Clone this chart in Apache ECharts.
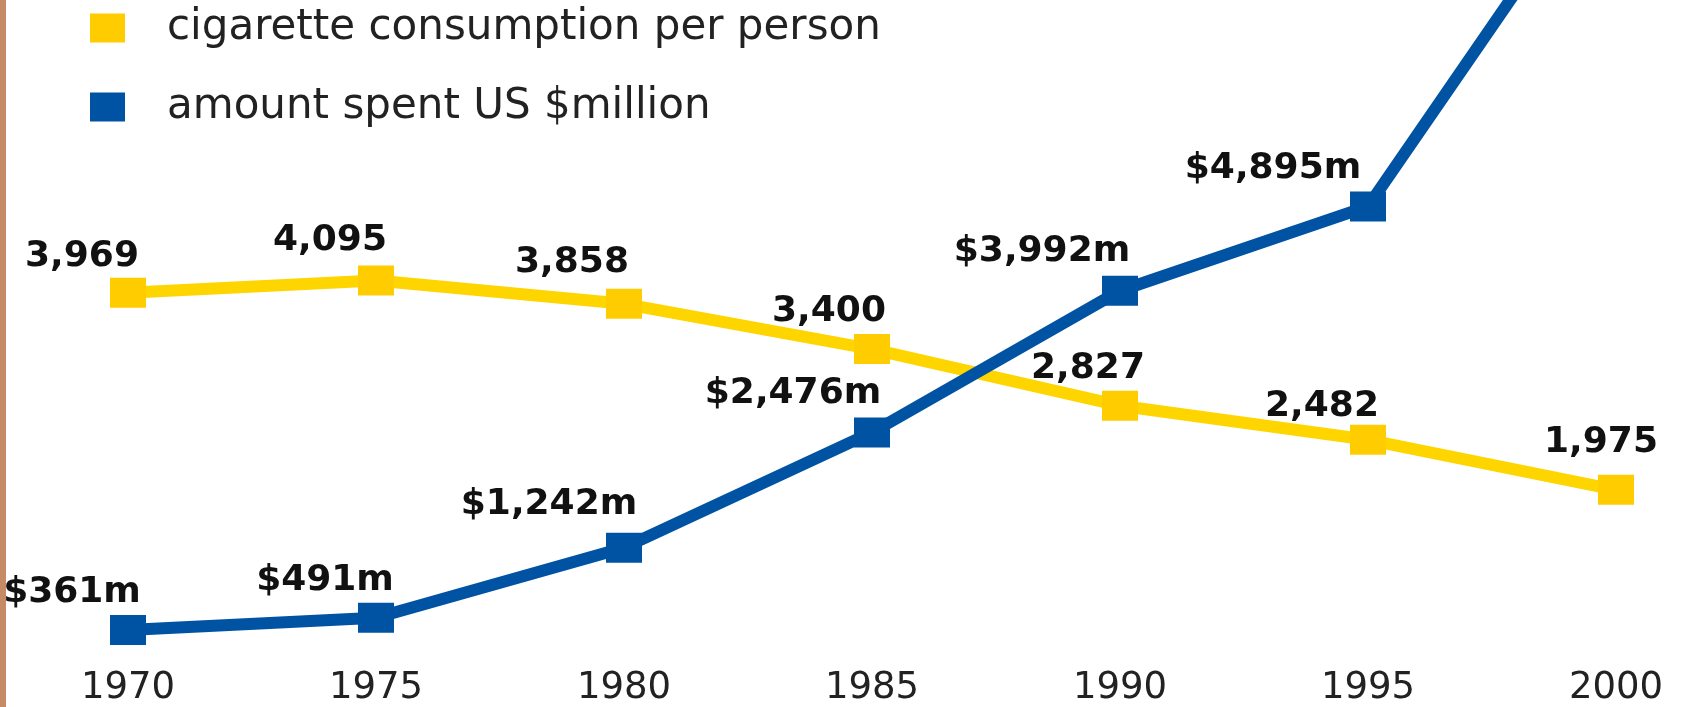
<!DOCTYPE html>
<html>
<head>
<meta charset="utf-8">
<script src="https://cdn.jsdelivr.net/npm/echarts@6/dist/echarts.min.js"></script>
<style>
  html, body { margin: 0; padding: 0; background: #fff; }
  #chart { width: 1690px; height: 707px; }
</style>
</head>
<body>
<div id="chart"></div>
<script>
// data
var years = ['1970', '1975', '1980', '1985', '1990', '1995', '2000']
var cigarettes = [3969, 4095, 3858, 3400, 2827, 2482, 1975]
var spent = [361, 491, 1242, 2476, 3992, 4895, 8750]   // 2000 runs off the top, estimated
var cigLabels = ['3,969', '4,095', '3,858', '3,400', '2,827', '2,482', '1,975']
var spentLabels = ['$361m', '$491m', '$1,242m', '$2,476m', '$3,992m', '$4,895m', '']

// label nudges (px from the marker centre)
var cigShift = [[-46, -36], [-46, -40], [-52, -41], [-43, -37], [-32, -37], [-46, -33], [-15, -47]]
var spentShift = [[-56, -37], [-51, -37], [-75, -43], [-79, -39], [-78, -39], [-95, -38], [0, 0]]

var labelFont = {
  fontFamily: 'DejaVu Sans',
  fontWeight: 'bold',
  fontSize: 36,
  color: '#111'
}

function buildData(values, texts, shifts) {
  return values.map(function (v, i) {
    return {
      value: v,
      label: {
        show: texts[i] !== '',
        formatter: texts[i],
        offset: shifts[i]
      }
    }
  })
}

var chart = echarts.init(document.getElementById('chart'))

var option = {
  animation: false,
  backgroundColor: '#fff',
  grid: { left: 128, right: 74, top: 0, bottom: 22 },
  legend: {
    orient: 'vertical',
    left: 85,
    top: 2,
    icon: 'rect',
    itemWidth: 35,
    itemHeight: 29,
    itemGap: 37,
    selectedMode: false,
    textStyle: {
      fontFamily: 'DejaVu Sans',
      fontSize: 42,
      lineHeight: 42,
      color: '#222',
      padding: [0, 0, 0, 37]
    },
    data: ['cigarette consumption per person', 'amount spent US $million']
  },
  xAxis: {
    type: 'category',
    data: years,
    boundaryGap: false,
    axisLine: { show: false },
    axisTick: { show: false },
    splitLine: { show: false },
    axisLabel: {
      fontFamily: 'DejaVu Sans',
      fontSize: 37,
      color: '#222',
      margin: -15
    }
  },
  yAxis: [
    { type: 'value', min: 0, max: 6933, show: false, splitLine: { show: false } },
    { type: 'value', min: -228, max: 7105, show: false, splitLine: { show: false } }
  ],
  graphic: [
    { type: 'rect', left: 0, top: 0, shape: { width: 6, height: 707 }, style: { fill: '#C68B66' } }
  ],
  series: [
    {
      name: 'cigarette consumption per person',
      type: 'line',
      yAxisIndex: 0,
      symbol: 'rect',
      symbolSize: [36, 30],
      lineStyle: { width: 12, color: '#FFD500' },
      itemStyle: { color: '#FFCC00' },
      label: Object.assign({ position: 'inside' }, labelFont),
      data: buildData(cigarettes, cigLabels, cigShift)
    },
    {
      name: 'amount spent US $million',
      type: 'line',
      yAxisIndex: 1,
      symbol: 'rect',
      symbolSize: [36, 30],
      lineStyle: { width: 12, color: '#0053A3' },
      itemStyle: { color: '#0053A3' },
      label: Object.assign({ position: 'inside' }, labelFont),
      data: buildData(spent, spentLabels, spentShift)
    }
  ]
}

chart.setOption(option)
</script>
</body>
</html>
